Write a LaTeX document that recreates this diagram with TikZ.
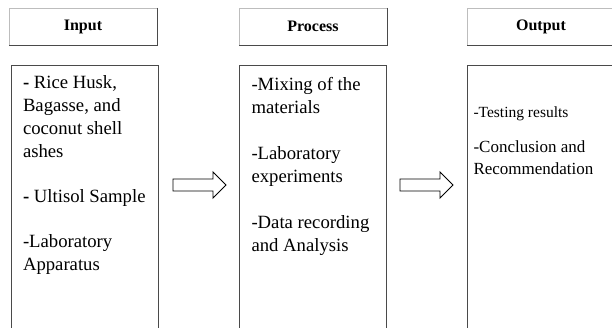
\documentclass[tikz,border=0pt]{standalone}
\usepackage{fontspec}
\setmainfont{Liberation Serif}
\usetikzlibrary{positioning}
\definecolor{FrameDark}{HTML}{4A4A4A}
\definecolor{FrameLight}{HTML}{BDBDBD}

\begin{document}
\begin{tikzpicture}[x=1pt, y=-1pt, node distance=20pt,
  every node/.style={inner sep=0pt, outer sep=0pt},
  headbox/.style={draw=FrameLight, line width=0.9pt, minimum width=148pt, minimum height=37pt, font=\fontsize{16}{19}\selectfont\bfseries},
  bodybox/.style={draw=FrameDark, line width=0.9pt, minimum width=147pt, minimum height=280pt},
  listtext/.style={align=left, anchor=north west, font=\fontsize{18.7}{23}\selectfont},
  blockarrow/.style={draw=black, line width=0.9pt, fill=white, line join=miter}]
  \useasboundingbox (0,0) rectangle (612,328);

  % header row
  \node[headbox] (hdrIn) at (83,26.5) {Input};
  \node[headbox, right=82pt of hdrIn] (hdrProc) {Process};
  \node[headbox, right=80pt of hdrProc] (hdrOut) {Output};
  % darker lower and right edges
  \foreach \h in {hdrIn,hdrProc,hdrOut}
    \draw[FrameDark, line width=0.9pt] (\h.north east) -- (\h.south east) -- (\h.south west);

  % tall boxes under the headers
  \node[bodybox, below=of hdrIn, xshift=1.5pt] (bodyIn) {};
  \node[bodybox, below=of hdrProc] (bodyProc) {};
  \node[bodybox, below=of hdrOut] (bodyOut) {};

  \node[listtext] (txtIn) at ([xshift=12pt, yshift=-11pt]bodyIn.north west)
    {\textbf{-} Rice Husk,\\ Bagasse, and\\ coconut shell\\ ashes\\[22pt]
     \textbf{-} Ultisol Sample\\[22pt]
     -Laboratory\\ Apparatus};
  \node[listtext] (txtProc) at ([xshift=12pt, yshift=-12pt]bodyProc.north west)
    {-Mixing of the\\ materials\\[23pt]
     -Laboratory\\ experiments\\[23pt]
     -Data recording\\ and Analysis};
  \node[listtext, font=\fontsize{17}{22}\selectfont] (txtOut) at ([xshift=6pt, yshift=-42pt]bodyOut.north west)
    {{\fontsize{15.5}{22}\selectfont -Testing results}\\[13pt]
     -Conclusion and\\ Recommendation};

  % hollow arrows between the columns
  \coordinate (arrA) at (173,185);
  \coordinate (arrB) at (400,185);
  \foreach \a in {arrA,arrB}
    \draw[blockarrow] (\a) ++(0,-6) -- ++(40,0) -- ++(0,-7) -- ++(13,13) -- ++(-13,13) -- ++(0,-7) -- ++(-40,0) -- cycle;
\end{tikzpicture}
\end{document}
